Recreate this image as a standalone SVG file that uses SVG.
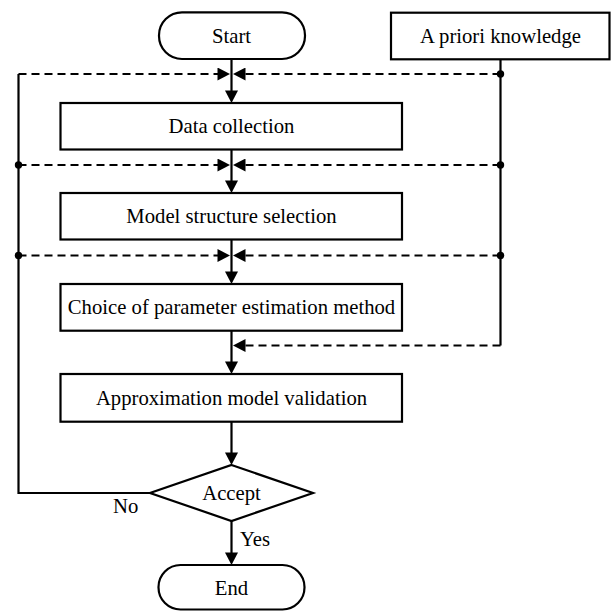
<svg xmlns="http://www.w3.org/2000/svg" width="611" height="611" viewBox="0 0 611 611">
<defs>
<style>
.box{fill:#fff;stroke:#000;stroke-width:2.2}
.t{font-family:"Liberation Serif","Times New Roman",serif;font-size:20.7px;fill:#000;text-anchor:middle}
.ts{font-family:"Liberation Serif","Times New Roman",serif;font-size:20.7px;fill:#000}
.solid{fill:none;stroke:#000;stroke-width:2.2}
.dash{fill:none;stroke:#000;stroke-width:2.2;stroke-dasharray:8 5}
.arr{marker-end:url(#ah)}
.dot{fill:#000}
</style>
<marker id="ah" markerUnits="userSpaceOnUse" markerWidth="13" markerHeight="13" viewBox="0 0 12.5 13" refX="8.5" refY="6.5" orient="auto">
<path d="M0,0 L12.5,6.5 L0,13 Z" fill="#000" stroke="none"/>
</marker>
</defs>
<rect width="611" height="611" fill="#fff"/>
<g id="connectors">
<path class="solid arr" d="M231.5,59 V99"/>
<path class="solid arr" d="M231.5,149.5 V189"/>
<path class="solid arr" d="M231.5,239.5 V280"/>
<path class="solid arr" d="M231.5,330.7 V370"/>
<path class="solid arr" d="M231.5,421.7 V461"/>
<path class="solid arr" d="M231.5,521 V561"/>
<path class="solid" d="M150,493 H18.5 V74"/>
<path class="solid" d="M500.5,59.3 V345.5"/>
<path class="dash arr" d="M18.5,74 H226"/>
<path class="dash arr" d="M500.5,74 H237"/>
<path class="dash arr" d="M18.5,165 H226"/>
<path class="dash arr" d="M500.5,165 H237"/>
<path class="dash arr" d="M18.5,255.5 H226"/>
<path class="dash arr" d="M500.5,255.5 H237"/>
<path class="dash arr" d="M500.5,345.5 H237"/>
<circle class="dot" cx="500.5" cy="74" r="3.7"/>
<circle class="dot" cx="500.5" cy="165" r="3.7"/>
<circle class="dot" cx="500.5" cy="255.5" r="3.7"/>
<circle class="dot" cx="18.5" cy="165" r="3.7"/>
<circle class="dot" cx="18.5" cy="255.5" r="3.7"/>
<text class="ts" x="113" y="513">No</text>
<text class="ts" x="240" y="546">Yes</text>
</g>
<g id="start">
<rect class="box" x="159" y="12.3" width="146" height="46.7" rx="23" ry="23"/>
<text class="t" x="231.5" y="42.5">Start</text>
</g>
<g id="apriori">
<rect class="box" x="391" y="12.7" width="218.5" height="46.6"/>
<text class="t" x="500.5" y="43">A priori knowledge</text>
</g>
<g id="data">
<rect class="box" x="60.5" y="103" width="341.5" height="46.5"/>
<text class="t" x="231.5" y="133">Data collection</text>
</g>
<g id="model">
<rect class="box" x="60.5" y="193" width="341.5" height="46.5"/>
<text class="t" x="231.5" y="223">Model structure selection</text>
</g>
<g id="choice">
<rect class="box" x="60.5" y="284" width="341.5" height="46.7"/>
<text class="t" x="231.5" y="314">Choice of parameter estimation method</text>
</g>
<g id="approx">
<rect class="box" x="60.5" y="374" width="341.5" height="47.7"/>
<text class="t" x="231.5" y="404.7">Approximation model validation</text>
</g>
<g id="accept">
<polygon class="box" points="231.5,465 313,493 231.5,521 150,493"/>
<text class="t" x="231.5" y="499.5">Accept</text>
</g>
<g id="end">
<rect class="box" x="158.5" y="565" width="146" height="44.5" rx="22" ry="22"/>
<text class="t" x="231.5" y="595">End</text>
</g>
</svg>
